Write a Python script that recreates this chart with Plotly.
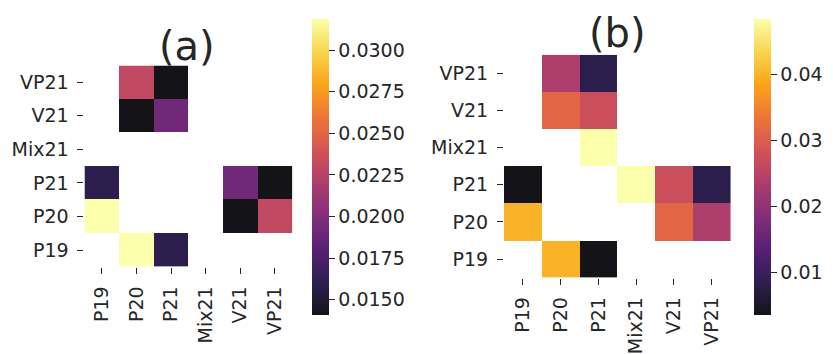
import plotly.graph_objects as go
import plotly.express as px

W, H = 833, 354

categories = ["P19", "P20", "P21", "Mix21", "V21", "VP21"]

# rows in order P19..VP21 (bottom to top), columns P19..VP21
values_a = [
    [None,   0.0319, 0.0160, None, None,   None],    # P19
    [0.0319, None,   None,   None, 0.0141, 0.0230],  # P20
    [0.0160, None,   None,   None, 0.0192, 0.0141],  # P21
    [None,   None,   None,   None, None,   None],    # Mix21
    [None,   0.0141, 0.0192, None, None,   None],    # V21
    [None,   0.0230, 0.0141, None, None,   None],    # VP21
]
values_b = [
    [None,   0.0400, 0.0036, None,   None,   None],   # P19
    [0.0400, None,   None,   None,   0.0314, 0.0238], # P20
    [0.0036, None,   None,   0.0485, 0.0274, 0.0082], # P21
    [None,   None,   0.0485, None,   None,   None],   # Mix21
    [None,   0.0314, 0.0274, None,   None,   None],   # V21
    [None,   0.0238, 0.0082, None,   None,   None],   # VP21
]
ticks_a = [0.0150, 0.0175, 0.0200, 0.0225, 0.0250, 0.0275, 0.0300]
ticks_b = [0.01, 0.02, 0.03, 0.04]
titles = ["(a)", "(b)"]

ALPHA = 0.92
def blend(hexc):
    h = hexc.lstrip("#")
    r, g, b = int(h[0:2], 16), int(h[2:4], 16), int(h[4:6], 16)
    f = lambda c: round(ALPHA * c + (1 - ALPHA) * 255)
    return f"rgb({f(r)},{f(g)},{f(b)})"

inf = px.colors.sequential.Inferno
cs = [[i / (len(inf) - 1), blend(c)] for i, c in enumerate(inf)]

FONT = "DejaVu Sans"
TXT = "#262626"

def px2x(p): return p / W
def px2y(p): return 1 - p / H

fig = go.Figure()

panels = [
    dict(z=values_a, zmin=0.0141, zmax=0.0319, ticks=ticks_a, fmt=".4f",
         x0=85, x1=294, y0=67, y1=273, cbx=304, title=titles[0], tx=188.5, ty=47),
    dict(z=values_b, zmin=0.0036, zmax=0.0485, ticks=ticks_b, fmt=".2f",
         x0=507, x1=735, y0=56, y1=284, cbx=748, title=titles[1], tx=621, ty=34),
]

for i, p in enumerate(panels):
    sfx = "" if i == 0 else "2"
    fig.add_trace(go.Heatmap(
        z=p["z"], x=categories, y=categories,
        zmin=p["zmin"], zmax=p["zmax"], colorscale=cs,
        xaxis="x" + sfx, yaxis="y" + sfx, hoverongaps=False,
        colorbar=dict(
            x=px2x(p["cbx"]), xanchor="left", xref="paper",
            y=px2y(170.5), yanchor="middle", len=323 / H, lenmode="fraction",
            thickness=17, thicknessmode="pixels", outlinewidth=0,
            tickvals=p["ticks"], tickformat=p["fmt"], ticks="outside",
            ticklen=6, tickwidth=1.3, tickcolor=TXT, ticklabelposition="outside",
            tickfont=dict(family=FONT, size=19, color=TXT),
        ),
    ))
    ax = dict(
        domain=[px2x(p["x0"]), px2x(p["x1"])],
        anchor="y" + sfx, showgrid=False, zeroline=False, showline=False,
        ticks="outside", ticklen=6, tickwidth=1.3, tickcolor=TXT,
        ticklabelstandoff=5,
        tickangle=-90, tickfont=dict(family=FONT, size=19, color=TXT),
        type="category", categoryorder="array", categoryarray=categories,
    )
    ay = dict(
        domain=[px2y(p["y1"]), px2y(p["y0"])],
        anchor="x" + sfx, showgrid=False, zeroline=False, showline=False,
        ticks="outside", ticklen=6, tickwidth=1.3, tickcolor=TXT,
        ticklabelstandoff=5,
        tickfont=dict(family=FONT, size=19, color=TXT),
        type="category", categoryorder="array", categoryarray=categories,
    )
    fig.update_layout(**{"xaxis" + sfx: ax, "yaxis" + sfx: ay})
    fig.add_annotation(text=p["title"], x=px2x(p["tx"]), y=px2y(p["ty"]),
                       xref="paper", yref="paper", xanchor="center", yanchor="middle",
                       showarrow=False, font=dict(family=FONT, size=40, color=TXT))

fig.update_layout(
    width=W, height=H, margin=dict(l=0, r=0, t=0, b=0),
    paper_bgcolor="white", plot_bgcolor="white", showlegend=False,
)

fig.write_html("out.html")
